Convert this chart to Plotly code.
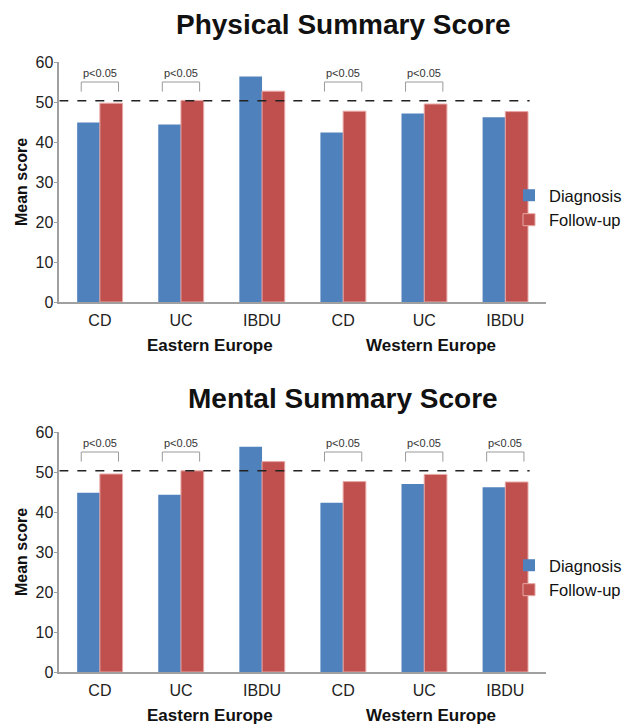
import plotly.graph_objects as go

# Category labels along each x-axis and the region each triple belongs to
categories = ["CD", "UC", "IBDU", "CD", "UC", "IBDU"]
regions = ["Eastern Europe", "Western Europe"]

# Mean scores, physical component
physical_diagnosis = [44.9, 44.4, 56.4, 42.4, 47.1, 46.2]
physical_followup = [49.7, 50.4, 52.7, 47.7, 49.5, 47.6]

# Mean scores, mental component
mental_diagnosis = [44.8, 44.3, 56.3, 42.3, 47.0, 46.2]
mental_followup = [49.5, 50.3, 52.6, 47.6, 49.4, 47.5]

# Which categories carry a significance bracket
physical_sig = [True, True, False, True, True, False]
mental_sig = [True, True, False, True, True, True]

norm_value = 50.3
sig_label = "p<0.05"

BLUE = "#4F81BD"
RED = "#C0504D"
W, H = 627, 725

x = list(range(len(categories)))

fig = go.Figure()

panels = [
    ("Physical Summary Score", physical_diagnosis, physical_followup, physical_sig,
     "x", "y", "legend", (62, 302), 24),
    ("Mental Summary Score", mental_diagnosis, mental_followup, mental_sig,
     "x2", "y2", "legend2", (432, 672), 399),
]

for title, diag, fu, sig, xa, ya, lg, (ptop, pbot), title_y in panels:
    fig.add_trace(go.Bar(x=x, y=diag, name="Diagnosis", marker_color=BLUE,
                         marker_line_width=0, xaxis=xa, yaxis=ya, legend=lg))
    fig.add_trace(go.Bar(x=x, y=fu, name="Follow-up", marker_color=RED,
                         marker_line=dict(color="#E8A8A6", width=1),
                         xaxis=xa, yaxis=ya, legend=lg))
    # dashed reference line
    fig.add_shape(type="line", xref=xa, yref=ya, x0=-0.5, x1=5.3,
                  y0=norm_value, y1=norm_value,
                  line=dict(color="#222", width=1.5, dash="dash"))
    # significance brackets
    for i, s in enumerate(sig):
        if not s:
            continue
        x0, x1 = i - 0.23, i + 0.23
        y_top, y_low = 55.0, 52.6
        fig.add_shape(type="path", xref=xa, yref=ya,
                      path=f"M {x0},{y_low} L {x0},{y_top} L {x1},{y_top} L {x1},{y_low}",
                      line=dict(color="#9a9a9a", width=1))
        fig.add_annotation(x=i, y=y_top, xref=xa, yref=ya, text=sig_label,
                           showarrow=False, yanchor="bottom", yshift=1,
                           font=dict(size=11, color="#333", family="Arial"))
    # panel title
    fig.add_annotation(x=347 / W, y=1 - title_y / H, xref="paper", yref="paper",
                       text=f"<b>{title}</b>", showarrow=False,
                       xanchor="center", yanchor="middle",
                       font=dict(size=28, color="#111", family="Arial"))
    # region labels
    for rx, rname in zip([212, 436], regions):
        fig.add_annotation(x=rx / W, y=1 - (pbot + 43) / H, xref="paper", yref="paper",
                           text=f"<b>{rname}</b>", showarrow=False,
                           xanchor="center", yanchor="middle",
                           font=dict(size=17, color="#111", family="Arial"))

axis_common = dict(showgrid=False, zeroline=False, showline=True,
                   linecolor="#A0A0A0", linewidth=1.5, automargin=False)

ytitle = dict(text="<b>Mean score</b>", font=dict(size=16, color="#111"), standoff=4)

xaxis_style = dict(range=[-0.5, 5.5], tickvals=x, ticktext=categories, ticks="",
                   ticklabelstandoff=3, tickfont=dict(size=16, color="#222"),
                   **axis_common)
yaxis_style = dict(range=[0, 60], dtick=10, ticks="outside", ticklen=4,
                   tickcolor="#A0A0A0", ticklabelstandoff=-3,
                   tickfont=dict(size=16, color="#222"), title=ytitle,
                   **axis_common)

fig.update_layout(
    width=W, height=H,
    margin=dict(l=0, r=0, t=0, b=0),
    paper_bgcolor="white", plot_bgcolor="white",
    barmode="group", bargap=0.44, bargroupgap=0,
    font=dict(family="Arial", color="#222"),
    xaxis=dict(domain=[60 / W, 552 / W], anchor="y", **xaxis_style),
    yaxis=dict(domain=[1 - 302 / H, 1 - 62 / H], anchor="x", **yaxis_style),
    xaxis2=dict(domain=[60 / W, 552 / W], anchor="y2", **xaxis_style),
    yaxis2=dict(domain=[1 - 672 / H, 1 - 432 / H], anchor="x2", **yaxis_style),
    legend=dict(x=515 / W, y=1 - 178 / H, xanchor="left", yanchor="top",
                font=dict(size=16.5, color="#111"), itemwidth=30,
                tracegroupgap=0, bgcolor="rgba(0,0,0,0)"),
    legend2=dict(x=515 / W, y=1 - 548 / H, xanchor="left", yanchor="top",
                 font=dict(size=16.5, color="#111"), itemwidth=30,
                 tracegroupgap=0, bgcolor="rgba(0,0,0,0)"),
)

fig.write_html("out.html")
